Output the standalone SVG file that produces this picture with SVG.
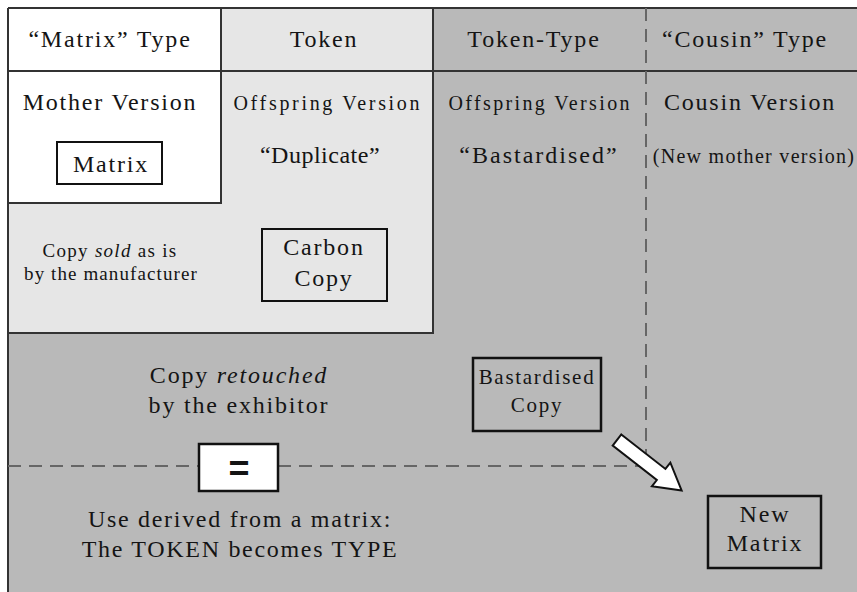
<svg xmlns="http://www.w3.org/2000/svg" width="857" height="592" viewBox="0 0 857 592" font-family="Liberation Serif, Times New Roman, DejaVu Serif, serif">
<style>
text{font-family:"Liberation Serif","Times New Roman","DejaVu Serif",serif;fill:#141414;text-anchor:middle}
.h{font-size:24px;letter-spacing:1.8px}
.m{font-size:24px;letter-spacing:1.8px}
.s{font-size:20px;letter-spacing:1.7px}
.b{font-size:19px;letter-spacing:1.2px}
.box{fill:none;stroke:#111;stroke-width:2}
.edge{stroke:#333;stroke-width:2;fill:none}
.dash{stroke:#666;stroke-width:2;stroke-dasharray:13 8;fill:none}
</style>
<rect x="0" y="0" width="857" height="592" fill="#fff"/>
<g id="background">
<rect x="8" y="8" width="849" height="584" fill="#b9b9b9"/>
<rect x="8" y="8" width="425" height="325" fill="#e6e6e6"/>
<rect x="8" y="8" width="213" height="195" fill="#fff"/>
<path class="edge" d="M221 8V203H8M433 8V333H8M8 71H857M8 8V592M8 8H857"/>
</g>
<g id="headers">
<text class="h" x="110" y="47">“Matrix” Type</text>
<text class="h" x="324" y="47">Token</text>
<text class="h" x="534" y="47">Token-Type</text>
<text class="h" x="745" y="47">“Cousin” Type</text>
</g>
<g id="matrix-type">
<text class="m" x="110" y="110">Mother Version</text>
<rect class="box" x="57" y="142" width="105" height="42" fill="#fff"/>
<text class="m" x="111" y="172">Matrix</text>
</g>
<g id="token">
<text x="326.5" y="110" style="font-size:20px" textLength="186" lengthAdjust="spacing">Offspring Version</text>
<text class="m" x="320" y="163" style="letter-spacing:0.5px">“Duplicate”</text>
</g>
<g id="token-type">
<text x="539" y="110" style="font-size:20px" textLength="181" lengthAdjust="spacing">Offspring Version</text>
<text class="m" x="539" y="163" style="letter-spacing:2px">“Bastardised”</text>
</g>
<g id="cousin-type">
<text class="m" x="750" y="110">Cousin Version</text>
<text class="s" x="754" y="163" style="letter-spacing:1.3px">(New mother version)</text>
</g>
<g id="sold-copy">
<text class="b" x="110" y="257" style="letter-spacing:1.3px">Copy <tspan font-style="italic">sold</tspan> as is</text>
<text class="b" x="111" y="280" style="letter-spacing:1.1px">by the manufacturer</text>
</g>
<g id="carbon-copy">
<rect class="box" x="262" y="229" width="125" height="72"/>
<text class="m" x="324" y="255">Carbon</text>
<text class="m" x="324" y="286">Copy</text>
</g>
<g id="retouched-copy">
<text class="m" x="239" y="383">Copy <tspan font-style="italic">retouched</tspan></text>
<text class="m" x="239" y="413">by the exhibitor</text>
</g>
<g id="bastardised-copy">
<rect class="box" x="473" y="358" width="128" height="73" style="stroke-width:2.5"/>
<text x="537" y="384" style="font-size:21px;letter-spacing:1.7px">Bastardised</text>
<text x="537" y="412" style="font-size:21px;letter-spacing:1.7px">Copy</text>
</g>
<g id="connectors">
<path class="dash" d="M646 8V466M8 466H199M278 466H646"/>
<polygon points="0,-7 56,-7 56,-15 82,0 56,15 56,7 0,7" fill="#fff" stroke="#111" stroke-width="2" stroke-linejoin="miter" transform="translate(617,440) rotate(38)"/>
</g>
<g id="equals">
<rect x="199" y="444" width="79" height="47" fill="#fff" stroke="#111" stroke-width="2.5"/>
<text x="239" y="481" style="font-size:36px;font-weight:bold;font-family:'Liberation Sans',Arial,sans-serif">=</text>
</g>
<g id="use-derived">
<text class="m" x="240" y="527" style="letter-spacing:1.7px">Use derived from a matrix:</text>
<text class="m" x="240" y="557" style="letter-spacing:1.7px">The TOKEN becomes TYPE</text>
</g>
<g id="new-matrix">
<rect class="box" x="708" y="496" width="113" height="72" style="stroke-width:2.5"/>
<text class="m" x="765" y="522" style="letter-spacing:1.9px">New</text>
<text class="m" x="765" y="551" style="letter-spacing:1.9px">Matrix</text>
</g>
</svg>
